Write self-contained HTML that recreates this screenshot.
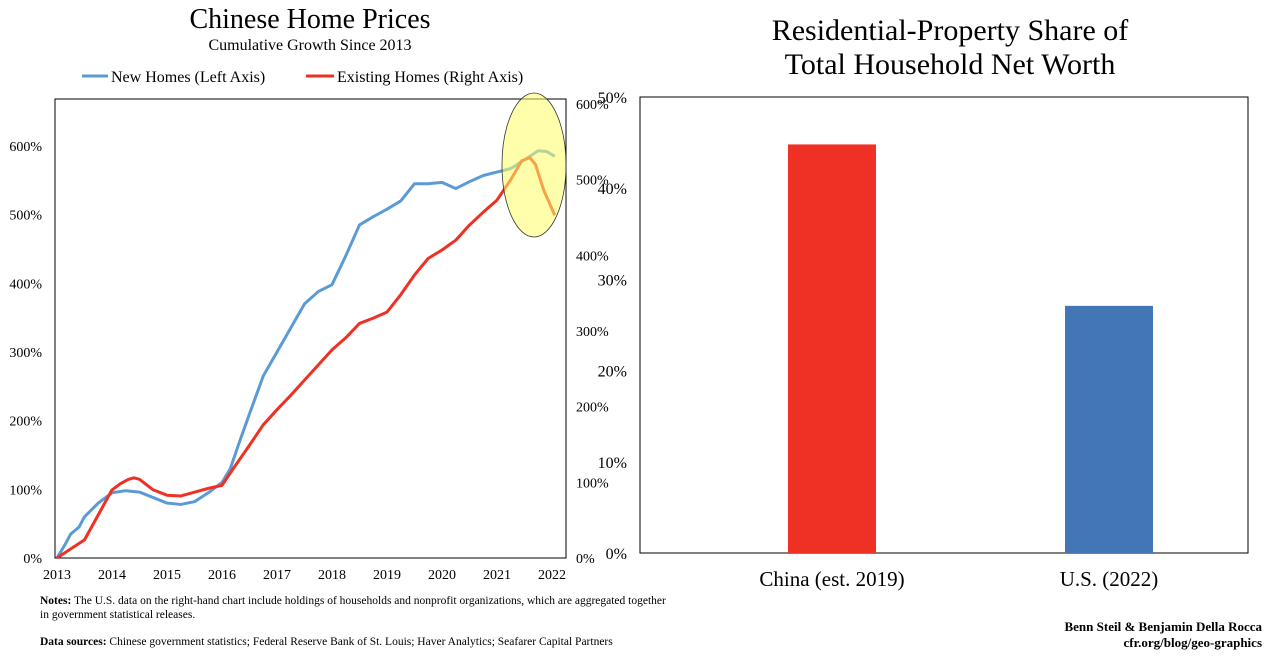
<!DOCTYPE html>
<html><head><meta charset="utf-8"><style>
body{margin:0;width:1280px;height:662px;background:#fff;overflow:hidden;font-family:"Liberation Serif",serif}
svg{position:absolute;left:0;top:0}
</style></head><body>
<svg id="s" width="1280" height="662" xmlns="http://www.w3.org/2000/svg" font-family="Liberation Serif, serif">
<text x="310" y="28" font-size="28" text-anchor="middle">Chinese Home Prices</text>
<text x="310" y="50" font-size="16" text-anchor="middle">Cumulative Growth Since 2013</text>
<line x1="82" y1="76" x2="108" y2="76" stroke="#5b9bd5" stroke-width="3"/>
<text x="111" y="82" font-size="16">New Homes (Left Axis)</text>
<line x1="306" y1="76" x2="334" y2="76" stroke="#ee3124" stroke-width="3"/>
<text x="337" y="82" font-size="16">Existing Homes (Right Axis)</text>
<g id="left"></g>
<text x="950" y="40" font-size="30" text-anchor="middle">Residential-Property Share of</text>
<text x="950" y="74" font-size="30" text-anchor="middle">Total Household Net Worth</text>
<g id="right"></g>
<text x="40" y="604" font-size="11.5"><tspan font-weight="bold">Notes:</tspan> The U.S. data on the right-hand chart include holdings of households and nonprofit organizations, which are aggregated together</text>
<text x="40" y="618" font-size="11.5">in government statistical releases.</text>
<text x="40" y="645" font-size="11.5"><tspan font-weight="bold">Data sources:</tspan> Chinese government statistics; Federal Reserve Bank of St. Louis; Haver Analytics; Seafarer Capital Partners</text>
<text x="1262" y="631" font-size="13" font-weight="bold" text-anchor="end">Benn Steil &amp; Benjamin Della Rocca</text>
<text x="1262" y="647" font-size="13" font-weight="bold" text-anchor="end">cfr.org/blog/geo-graphics</text>
</svg>
<script>
const years=[2013,2014,2015,2016,2017,2018,2019,2020,2021,2022];
const leftTicks=[0,100,200,300,400,500,600];
const rightTicks=[0,100,200,300,400,500,600];
const newT=[2013,2013.15,2013.25,2013.4,2013.5,2013.75,2014,2014.25,2014.5,2014.75,2015,2015.25,2015.5,2015.75,2016,2016.15,2016.3,2016.5,2016.75,2017,2017.25,2017.5,2017.75,2018,2018.25,2018.5,2018.75,2019,2019.25,2019.5,2019.75,2020,2020.25,2020.5,2020.75,2021,2021.25,2021.5,2021.75,2021.9,2022.05];
const newV=[0,20,35,45,60,80,95,98,96,88,80,78,82,95,110,130,165,210,265,300,335,370,388,398,440,485,497,508,520,545,545,547,538,548,557,562,567,580,593,592,585];
const exT=[2013,2013.25,2013.5,2013.75,2014,2014.15,2014.3,2014.4,2014.5,2014.75,2015,2015.25,2015.5,2015.75,2016,2016.25,2016.5,2016.75,2017,2017.25,2017.5,2017.75,2018,2018.25,2018.5,2018.75,2019,2019.25,2019.5,2019.75,2020,2020.25,2020.5,2020.75,2021,2021.25,2021.45,2021.6,2021.7,2021.85,2022.05];
const exV=[0,12,24,57,90,98,104,106,104,90,83,82,87,92,96,123,149,176,196,215,235,255,275,291,310,317,325,348,374,396,407,420,440,457,473,500,525,529,520,486,453];
const barCats=["China (est. 2019)","U.S. (2022)"];
const barVals=[44.8,27.1];
const barTicks=[0,10,20,30,40,50];
const NS="http://www.w3.org/2000/svg";
function mk(p,t,a){const e=document.createElementNS(NS,t);for(const k in a)e.setAttribute(k,a[k]);p.appendChild(e);return e;}
const L=document.getElementById('left');
const x=t=>57+(t-2013)*55;
const yL=v=>558-v*0.6867;
const yR=v=>558-v*0.7567;
const bx=mk(L,'rect',{x:55,y:99,width:511,height:459,fill:'none',stroke:'#000','stroke-width':1});


leftTicks.forEach(v=>{const t=mk(L,'text',{x:42,y:yL(v)+5,'font-size':14,'text-anchor':'end'});t.textContent=v+'%';

});
rightTicks.forEach(v=>{const t=mk(L,'text',{x:576,y:yR(v)+5,'font-size':14});t.textContent=v+'%';

});
years.forEach(v=>{const t=mk(L,'text',{x:x(v),y:579,'font-size':14,'text-anchor':'middle'});t.textContent=v;

});
const p1=mk(L,'polyline',{points:newT.map((t,i)=>x(t)+','+yL(newV[i])).join(' '),fill:'none',stroke:'#5b9bd5','stroke-width':3,'stroke-linejoin':'round'});


const p2=mk(L,'polyline',{points:exT.map((t,i)=>x(t)+','+yR(exV[i])).join(' '),fill:'none',stroke:'#ee3124','stroke-width':3,'stroke-linejoin':'round'});


const el=mk(L,'ellipse',{cx:534,cy:165,rx:32,ry:72,fill:'#ffff66','fill-opacity':0.55,stroke:'#333','stroke-width':0.8});


const R=document.getElementById('right');
const yB=v=>553-v*9.12;
const rb=mk(R,'rect',{x:640,y:97,width:608,height:456,fill:'none',stroke:'#000','stroke-width':1});


barTicks.forEach(v=>{const t=mk(R,'text',{x:627,y:yB(v)+6,'font-size':16,'text-anchor':'end'});t.textContent=v+'%';

});
const cols=['#ee3124','#4376b4'];const cx=[832,1109];
barCats.forEach((c,i)=>{const r=mk(R,'rect',{x:cx[i]-44,y:yB(barVals[i]),width:88,height:barVals[i]*9.12,fill:cols[i]});


const t=mk(R,'text',{x:cx[i],y:586,'font-size':21,'text-anchor':'middle'});t.textContent=c;

});
</script>
</body></html>
